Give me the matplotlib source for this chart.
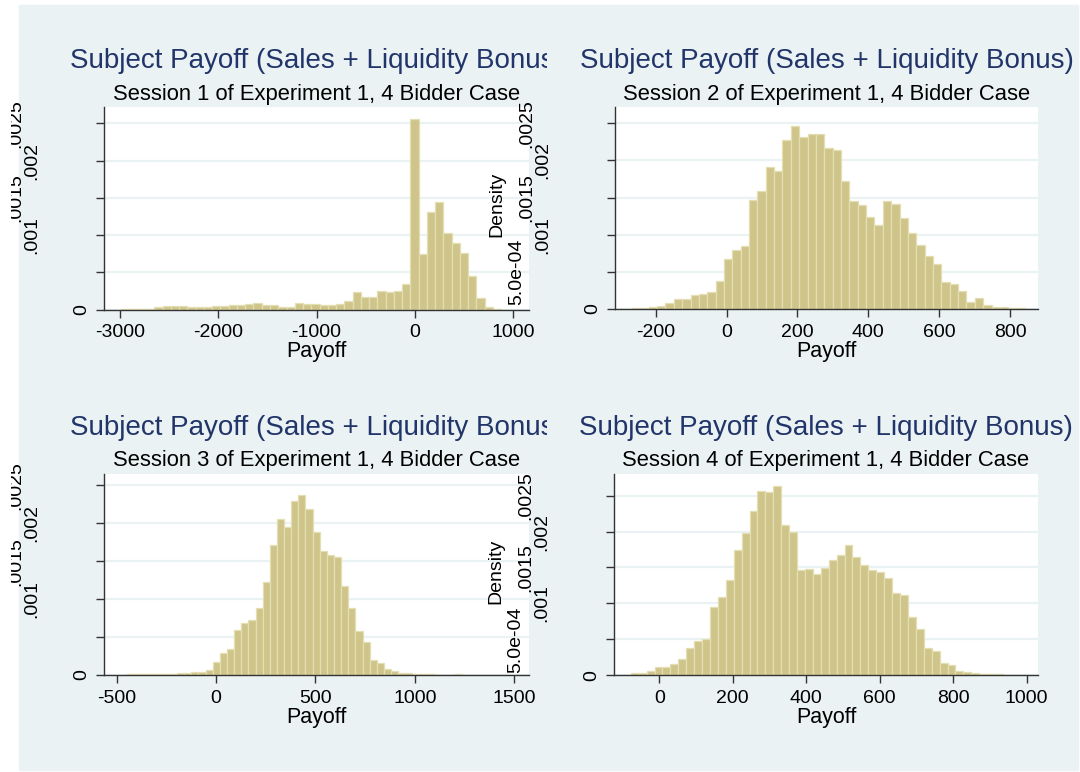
import numpy as np
import matplotlib
matplotlib.use("Agg")
import matplotlib.pyplot as plt
from matplotlib.patches import Rectangle

plt.rcParams['font.family'] = ['Liberation Sans', 'DejaVu Sans']

W, H = 1080, 772

# histogram heights, in units of 1e-4 (density)
dens1 = [0.13, 0.13, 0.13, 0.13, 0.27, 0.49, 0.49, 0.49, 0.40, 0.31, 0.31, 0.45,
         0.49, 0.54, 0.67, 0.72, 0.81, 0.54, 0.54, 0.40, 0.36, 0.85, 0.72, 0.76,
         0.54, 0.54, 0.72, 1.08, 2.37, 1.66, 1.66, 2.46, 2.37, 2.51, 3.40,
         25.54,
         7.39, 13.13, 14.47, 10.21, 8.96, 7.53, 4.53, 1.61, 0.36, 0.13]
dens2 = [0.13, 0.13, 0.26, 0.44, 0.79, 1.32, 1.41, 1.89, 1.98, 2.33, 3.83, 6.78,
         7.97, 8.45, 14.7, 15.9, 19.1, 18.6, 22.8, 24.6, 23.2, 23.5, 23.6, 21.7,
         21.4, 17.3, 14.6, 14.0, 12.4, 11.3, 14.6, 14.2, 12.2, 10.2, 8.6, 7.1,
         6.0, 3.7, 3.3, 2.4, 0.9, 1.5, 0.6, 0.26, 0.26, 0.13, 0.09]
dens3 = [0.09, 0.09, 0.09, 0.09, 0.09, 0.09, 0.18, 0.22, 0.26, 0.40, 0.44, 0.66,
         1.76, 2.95, 3.39, 5.90, 6.91, 7.30, 8.84, 12.3, 17.2, 20.6, 19.5, 23.0,
         23.7, 21.9, 18.8, 16.3, 15.8, 15.6, 11.7, 8.8, 5.85, 4.31, 1.94, 1.54,
         0.79, 0.53, 0.22, 0.26, 0.09, 0.09, 0.09, 0.0, 0.0, 0.0, 0.18]
dens4 = [0.28, 0.28, 0.65, 1.21, 1.16, 1.53, 2.32, 3.85, 4.83, 5.06, 9.47, 10.95,
         13.2, 17.4, 19.8, 22.9, 25.7, 25.5, 26.4, 20.9, 20.0, 14.7, 14.8, 14.1,
         14.9, 16.1, 16.8, 18.1, 16.5, 15.4, 14.6, 14.3, 13.5, 11.4, 11.2, 8.1,
         6.4, 3.85, 3.39, 1.67, 1.44, 0.6, 0.51, 0.28, 0.23, 0.14, 0.14]

# histogram bins: first edge and bin width
bin_start = [-2985, -267, -447.6, -77.3]
bin_width = [84, 23.6, 35.9, 21.55]

xticks = [[-3000, -2000, -1000, 0, 1000],
          [-200, 0, 200, 400, 600, 800],
          [-500, 0, 500, 1000, 1500],
          [0, 200, 400, 600, 800, 1000]]
yticks = [0, 0.0005, 0.001, 0.0015, 0.002, 0.0025]
ytick_labels = ["0", "5.0e-04", ".001", ".0015", ".002", ".0025"]

title = "Subject Payoff (Sales + Liquidity Bonus)"
subtitles = ["Session 1 of Experiment 1, 4 Bidder Case",
             "Session 2 of Experiment 1, 4 Bidder Case",
             "Session 3 of Experiment 1, 4 Bidder Case",
             "Session 4 of Experiment 1, 4 Bidder Case"]

# layout in pixels (x0, y0, x1, y1 from top-left)
boxes = [(104, 107, 529, 309.5), (615, 107, 1038, 309),
         (104, 474, 529, 675), (614, 474, 1038, 675.3)]
xlims = [(-3162, 1162), (-315, 879), (-564, 1575), (-123, 1031)]
ylims = [0.00272, 0.00272, 0.00265, 0.0028]
label_off = [22, 98, 72, 88, 72, 88]   # px left of the axis for each y label

bg = '#EAF2F3'
navy = '#22356a'
fill = '#CFC58A'
edge = '#E4DEB3'

fig = plt.figure(figsize=(W / 100, H / 100), dpi=100)
fig.patch.set_facecolor('white')
fig.patches.append(Rectangle((19 / W, 1 - 770 / H), (1078 - 19) / W, 765 / H,
                             transform=fig.transFigure, color=bg, zorder=-10))

all_dens = [dens1, dens2, dens3, dens4]
for i in range(4):
    x0, y0, x1, y1 = boxes[i]
    ax = fig.add_axes([x0 / W, 1 - y1 / H, (x1 - x0) / W, (y1 - y0) / H])
    ax.set_facecolor('white')
    d = np.array(all_dens[i]) * 1e-4
    edges = bin_start[i] + bin_width[i] * np.arange(len(d))
    ax.bar(edges, d, width=bin_width[i], align='edge', color=fill,
           edgecolor=edge, linewidth=0.9, zorder=2)
    ax.set_xlim(*xlims[i])
    ax.set_ylim(0, ylims[i])
    ax.set_axisbelow(True)
    ax.set_yticks(yticks)
    ax.set_yticklabels([])
    ax.yaxis.grid(True, color=bg, linewidth=1.6)
    ax.set_xticks(xticks[i])
    ax.set_xticklabels([str(t) for t in xticks[i]], fontsize=14)
    for s in ['top', 'right']:
        ax.spines[s].set_visible(False)
    for s in ['left', 'bottom']:
        ax.spines[s].set_color('#333333')
        ax.spines[s].set_linewidth(1.0)
    ax.tick_params(axis='both', direction='out', length=6, width=1.0,
                   color='#333333', pad=4.5)
    ax.set_xlabel("Payoff", fontsize=15.5, labelpad=0)

    # staggered vertical y labels, as in the original
    clip = Rectangle((11 / W, 0), 1, 1, transform=fig.transFigure)
    aw = x1 - x0
    trans = ax.get_yaxis_transform()
    for yv, lab, off in zip(yticks, ytick_labels, label_off):
        t = ax.text(-off / aw, yv, lab, transform=trans, rotation=90,
                    ha='center', va='center', fontsize=14, clip_on=True)
        t.set_clip_path(clip)
    t = ax.text(-118 / aw, (ylims[i] * 0.5 + 0.00005), "Density", transform=trans,
                rotation=90, ha='center', va='center', fontsize=14, clip_on=True)
    t.set_clip_path(clip)

    # titles
    cx = (x0 + x1) / 2
    tb = 68 if i < 2 else 435
    sb = 100 if i < 2 else 466
    t1 = fig.text(cx / W, 1 - tb / H, title, ha='center', va='baseline',
                  fontsize=20, color=navy)
    t2 = fig.text(cx / W, 1 - sb / H, subtitles[i], ha='center', va='baseline',
                  fontsize=15.8, color='black')
    if i % 2 == 0:
        tclip = Rectangle((0, 0), 547 / W, 1, transform=fig.transFigure)
        t1.set_clip_on(True)
        t1.set_clip_path(tclip)

fig.savefig("out.png", dpi=100)
